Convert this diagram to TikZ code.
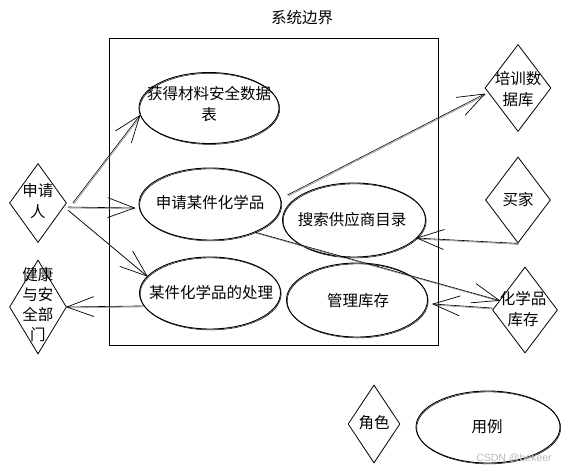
\documentclass[tikz,border=0pt]{standalone}
\usepackage{fontspec}
\newfontfamily\cjk{Noto Sans CJK SC}
\newfontfamily\wmfont{Liberation Sans}
\usetikzlibrary{shapes.geometric,decorations.markings,calc}
\begin{document}
\begin{tikzpicture}[x=1pt,y=-1pt,
  actor/.style={draw, diamond, inner sep=0pt, line width=0.8pt},
  usecase/.style={draw, ellipse, inner sep=0pt, line width=0.9pt,
    preaction={draw, line width=0.5pt, transform canvas={shift={(0.7pt,-0.9pt)}}}},
  lbl/.style={font=\cjk\fontsize{15.5}{21}\selectfont, align=center, inner sep=0pt},
  conn/.style={line width=0.6pt,
    preaction={draw, gray, line width=0.5pt, transform canvas={shift={(0.8pt,-1pt)}}},
    postaction={decorate},
    decoration={markings, mark=at position 1 with {
      \draw[line width=0.7pt, line join=miter] (-27pt,10pt) -- (0pt,0pt) -- (-27pt,-10pt);}}}
]
\useasboundingbox (0,0) rectangle (568,473);

% system boundary
\node[draw, line width=0.8pt, minimum width=329pt, minimum height=307pt, inner sep=0pt] (boundary) at (273.5,191.5) {};
\node[lbl] (title) at (302,18) {系统边界};

% actors
\node[actor, minimum width=57pt, minimum height=79pt] (applicant) at (38,203) {};
\node[lbl] at (38,201) {申请\\人};
\node[actor, minimum width=57pt, minimum height=94pt] (health) at (38,307) {};
\node[lbl, font=\cjk\fontsize{15.5}{20}\selectfont] at (38,305) {健康\\与安\\全部\\门};
\node[actor, minimum width=66pt, minimum height=87pt] (training) at (518,88) {};
\node[lbl] at (518,89) {培训数\\据库};
\node[actor, minimum width=65pt, minimum height=86pt] (buyer) at (518,200) {};
\node[lbl] at (518,200) {买家};
\node[actor, minimum width=65pt, minimum height=86pt] (chem) at (525,310) {};
\node[lbl] at (523,309) {化学品\\库存};
\node[actor, minimum width=52pt, minimum height=78pt] (role) at (374,424) {};
\node[lbl] at (374,423) {角色};

% use cases
\node[usecase, minimum width=140pt, minimum height=71pt] (obtain) at (209,108) {};
\node[lbl] at (209,104) {获得材料安全数据\\表};
\node[usecase, minimum width=142pt, minimum height=72pt] (request) at (210,204) {};
\node[lbl] at (210,203) {申请某件化学品};
\node[usecase, minimum width=141pt, minimum height=72pt] (handle) at (210,293) {};
\node[lbl] at (211,293) {某件化学品的处理};
\node[usecase, minimum width=143pt, minimum height=74pt] (supplier) at (354,220) {};
\node[lbl] at (352,220) {搜索供应商目录};
\node[usecase, minimum width=141pt, minimum height=74pt] (manage) at (357,300) {};
\node[lbl] at (358,301) {管理库存};
\node[usecase, minimum width=144pt, minimum height=72pt] (example) at (488,427) {};
\node[lbl] at (487,427) {用例};

% watermark
\node[font=\wmfont\fontsize{10.5}{12}\selectfont, text=gray!55, inner sep=0pt] (wm) at (514,458) {CSDN @bekeer};

% connectors
\draw[conn] ($(applicant.east)+(6,0)$) -- (obtain.186);
\draw[conn] ($(applicant.east)+(1,4)$) -- ($(request.west)+(-4,4)$);
\draw[conn] ($(applicant.east)+(1,7)$) -- (handle.165);
\draw[conn] (handle.191) -- (health.east);
\draw[conn] ($(request.east)+(6,-9)$) -- ($(training.west)+(0,6)$);
\draw[conn] (request.-32) -- ($(chem.west)!0.22!(chem.north)$);
\draw[conn] (buyer.south) -- (supplier.-16);
\draw[conn] ($(chem.west)+(0,-2)$) -- ($(manage.east)+(5,4)$);
\end{tikzpicture}
\end{document}
